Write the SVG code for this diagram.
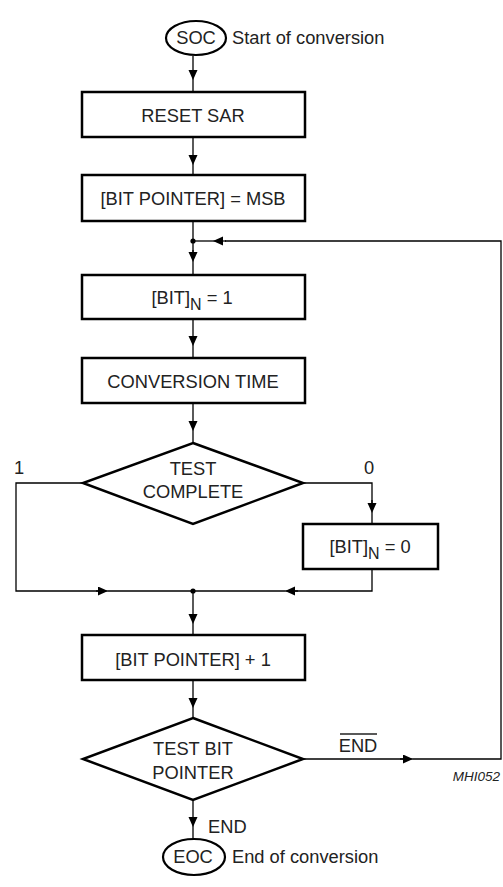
<svg xmlns="http://www.w3.org/2000/svg" width="503" height="887" viewBox="0 0 503 887">
<defs>
<marker id="ah" markerUnits="userSpaceOnUse" markerWidth="11" markerHeight="10" refX="10" refY="4.5" orient="auto">
<path d="M0,0 L10,4.5 L0,9 z" fill="#000"/>
</marker>
<style>
.box{fill:#fff;stroke:#000;stroke-width:2.5}
.term{fill:#fff;stroke:#000;stroke-width:2.2}
.c{fill:none;stroke:#000;stroke-width:1.3}
.a{fill:none;stroke:#000;stroke-width:1.3;marker-end:url(#ah)}
.t{font-family:"Liberation Sans",Arial,sans-serif;font-size:18.3px;fill:#222}
.m{text-anchor:middle}
.sub{font-size:16px}
.id{font-family:"Liberation Sans",Arial,sans-serif;font-size:13.5px;font-style:italic;fill:#222;text-anchor:end}
</style>
</defs>
<rect width="503" height="887" fill="#fff"/>
<g id="connectors">
<path class="a" d="M193,56 V80"/><path class="c" d="M193,80 V92"/>
<path class="a" d="M193,137 V165"/><path class="c" d="M193,165 V175"/>
<path class="c" d="M193,221 V252"/><path class="a" d="M193,250 V262"/><path class="c" d="M193,262 V275"/>
<path class="c" d="M303,759 H403"/><path class="a" d="M400,759 H413"/><path class="c" d="M413,759 H501 V241 H225"/><path class="a" d="M226,241 H213"/><path class="c" d="M213,241 H193"/>
<path class="a" d="M193,319 V346"/><path class="c" d="M193,346 V358"/>
<path class="a" d="M193,403 V431"/><path class="c" d="M193,431 V443"/>
<path class="c" d="M303,483 H372 V505"/><path class="a" d="M372,500 V513"/><path class="c" d="M372,513 V524"/>
<path class="c" d="M372,569 V591 H295"/><path class="a" d="M298,591 H285"/><path class="c" d="M285,591 H193"/>
<path class="c" d="M83,483 H16 V591 H100"/><path class="a" d="M96,591 H108"/><path class="c" d="M108,591 H193"/>
<path class="a" d="M193,591 V624"/><path class="c" d="M193,624 V635"/>
<path class="a" d="M193,680 V708"/><path class="c" d="M193,708 V718"/>
<path class="a" d="M193,800 V827"/><path class="c" d="M193,827 V839"/>
<circle cx="193" cy="241" r="2.6" fill="#000"/>
<circle cx="193" cy="591" r="2.6" fill="#000"/>
</g>
<g id="soc">
<ellipse class="term" cx="196" cy="38" rx="30" ry="17"/>
<text class="t m" x="196" y="44">SOC</text>
<text class="t" x="232" y="44">Start of conversion</text>
</g>
<g id="reset">
<rect class="box" x="82" y="92" width="223" height="45"/>
<text class="t m" x="193" y="122">RESET SAR</text>
</g>
<g id="bitptr">
<rect class="box" x="82" y="175" width="223" height="46"/>
<text class="t m" x="193" y="205">[BIT POINTER] = MSB</text>
</g>
<g id="bit1">
<rect class="box" x="82" y="275" width="223" height="44"/>
<text class="t m" x="192" y="304">[BIT]<tspan class="sub" dy="6">N</tspan><tspan dy="-6"> = 1</tspan></text>
</g>
<g id="convtime">
<rect class="box" x="82" y="358" width="223" height="45"/>
<text class="t m" x="193" y="388">CONVERSION TIME</text>
</g>
<g id="testcomplete">
<polygon class="box" points="193,443 303,483 193,524 83,483"/>
<text class="t m" x="193" y="475">TEST</text>
<text class="t m" x="193" y="498">COMPLETE</text>
<text class="t" x="14" y="474">1</text>
<text class="t" x="364" y="474">0</text>
</g>
<g id="bit0">
<rect class="box" x="303" y="524" width="135" height="45"/>
<text class="t m" x="370" y="553">[BIT]<tspan class="sub" dy="6">N</tspan><tspan dy="-6"> = 0</tspan></text>
</g>
<g id="bitptrinc">
<rect class="box" x="82" y="635" width="223" height="45"/>
<text class="t m" x="193" y="666">[BIT POINTER] + 1</text>
</g>
<g id="testbitptr">
<polygon class="box" points="193,718 303,759 193,800 83,759"/>
<text class="t m" x="193" y="755">TEST BIT</text>
<text class="t m" x="193" y="779">POINTER</text>
<text class="t m" x="358" y="752">END</text>
<line x1="340" y1="734" x2="377" y2="734" stroke="#222" stroke-width="1.3"/>
</g>
<g id="eoc">
<ellipse class="term" cx="194" cy="857" rx="31" ry="18"/>
<text class="t m" x="193" y="863">EOC</text>
<text class="t" x="232" y="863">End of conversion</text>
<text class="t" x="208" y="833">END</text>
</g>
<text class="id" x="500" y="781">MHI052</text>
</svg>
